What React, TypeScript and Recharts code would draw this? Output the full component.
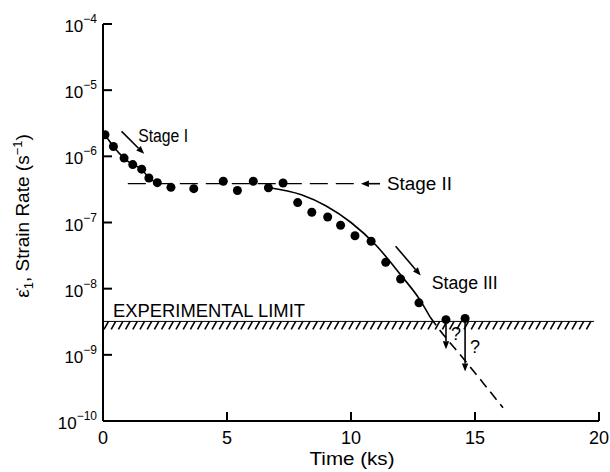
import React from 'react';
import {
    ComposedChart,
    Scatter,
    Line,
    XAxis,
    YAxis,
    ReferenceLine,
    ReferenceArea
} from 'recharts';

// measured points: time (ks) vs strain rate (1/s)
const timeKs = [0.08, 0.42, 0.85, 1.2, 1.56, 1.85, 2.19, 2.74, 3.66, 4.85, 5.42, 6.06, 6.67, 7.26, 7.85, 8.42, 9.06, 9.58, 10.16, 10.81, 11.4, 12.0, 12.74, 13.83, 14.6];
const strainRate = [2.12e-6, 1.41e-6, 9.4e-7, 7.5e-7, 6.4e-7, 4.7e-7, 4.0e-7, 3.4e-7, 3.25e-7, 4.2e-7, 3.05e-7, 4.2e-7, 3.35e-7, 3.95e-7, 2.0e-7, 1.43e-7, 1.21e-7, 9.1e-8, 6.3e-8, 5.2e-8, 2.5e-8, 1.4e-8, 6.1e-9, 3.4e-9, 3.55e-9];

// stage I fitted curve
const stage1Time = [0.08, 0.42, 0.85, 1.2, 1.56, 1.85, 2.19];
const stage1Rate = [2.12e-6, 1.41e-6, 9.4e-7, 7.5e-7, 6.4e-7, 4.7e-7, 4.0e-7];

// stage II steady-state level (dashed)
const stage2Time = [1.0, 10.3];
const stage2Rate = [3.86e-7, 3.86e-7];

// stage III fitted curve (solid) and extrapolation (dashed)
const stage3Time = [6.65, 8.0, 9.0, 10.0, 11.0, 12.0, 12.78, 13.19];
const stage3Rate = [3.39e-7, 2.63e-7, 1.78e-7, 1.0e-7, 4.57e-8, 1.62e-8, 6.76e-9, 3.72e-9];
const extrapTime = [13.19, 13.59, 14.52, 15.32, 16.13];
const extrapRate = [3.72e-9, 2.34e-9, 8.9e-10, 3.8e-10, 1.58e-10];

// experimental limit band
const limitLow = 2.43e-9;
const limitHigh = 3.2e-9;

const xTicks = [0, 5, 10, 15, 20];
const yTicks = [1e-10, 1e-9, 1e-8, 1e-7, 1e-6, 1e-5, 1e-4];

const toRows = (ts: number[], rs: number[]) => ts.map((t, i) => ({ t, rate: rs[i] }));

const FONT = '"Liberation Sans", Arial, sans-serif';
const PLOT_LEFT = 103;
const PLOT_BOTTOM = 421;

const YTick = (props: any) => {
    const { y, payload } = props;
    const exp = Math.round(Math.log10(payload.value));
    return (
        <g>
            <line x1={PLOT_LEFT} x2={PLOT_LEFT + 9} y1={y} y2={y} stroke="#000" strokeWidth={2} />
            <text x={PLOT_LEFT - 6} y={y + 8} textAnchor="end" fontSize={17} fontFamily={FONT} fill="#000">
                10<tspan dy={-9} fontSize={12}>{'\u2212' + Math.abs(exp)}</tspan>
            </text>
        </g>
    );
};

const XTick = (props: any) => {
    const { x, payload } = props;
    return (
        <g>
            {payload.value > 0 && (
                <line x1={x} x2={x} y1={PLOT_BOTTOM} y2={PLOT_BOTTOM - 9} stroke="#000" strokeWidth={2} />
            )}
            <text x={x} y={PLOT_BOTTOM + 23} textAnchor="middle" fontSize={18} fontFamily={FONT} fill="#000">
                {payload.value}
            </text>
        </g>
    );
};

const Hatch = (props: any) => {
    const { x, y, width, height } = props;
    const marks = [];
    for (let px = x + 1; px < x + width - 3; px += 7.2) {
        marks.push(
            <line key={px} x1={px} y1={y + height} x2={px + 4.5} y2={y} stroke="#000" strokeWidth={1.6} />
        );
    }
    return (
        <g>
            <line x1={x} x2={x + width} y1={y} y2={y} stroke="#000" strokeWidth={1} />
            {marks}
            <text x={x + 10} y={y - 4} fontSize={18} fontFamily={FONT} textLength={192} lengthAdjust="spacingAndGlyphs" fill="#000">
                EXPERIMENTAL LIMIT
            </text>
        </g>
    );
};

// arrow with optional text placed relative to one of its ends
const arrow = (label?: string, dx = 0, dy = 0, fromStart = false, len?: number) => (p: any) => {
    const { x1, y1, x2, y2 } = p;
    const ang = Math.atan2(y2 - y1, x2 - x1);
    const h = 8;
    const w = 3.2;
    const bx = x2 - h * Math.cos(ang);
    const by = y2 - h * Math.sin(ang);
    const pts = [
        `${x2},${y2}`,
        `${bx + w * Math.sin(ang)},${by - w * Math.cos(ang)}`,
        `${bx - w * Math.sin(ang)},${by + w * Math.cos(ang)}`
    ].join(' ');
    const ax = fromStart ? x1 : x2;
    const ay = fromStart ? y1 : y2;
    return (
        <g>
            <line x1={x1} y1={y1} x2={bx} y2={by} stroke="#000" strokeWidth={1.6} />
            <polygon points={pts} fill="#000" />
            {label && (
                <text x={ax + dx} y={ay + dy} fontSize={18} fontFamily={FONT} fill="#000"
                    textLength={len} lengthAdjust={len ? 'spacingAndGlyphs' : undefined}>
                    {label}
                </text>
            )}
        </g>
    );
};

export default function App() {
    const points = toRows(timeKs, strainRate);

    return (
        <div style={{ position: 'absolute', left: 0, top: 0, width: 610, height: 472, background: '#fff' }}>
            <ComposedChart width={610} height={472} margin={{ top: 24, right: 11, left: 43, bottom: 21 }}>
                <XAxis
                    dataKey="t"
                    type="number"
                    domain={[0, 20]}
                    ticks={xTicks}
                    allowDataOverflow
                    height={30}
                    axisLine={{ stroke: '#000', strokeWidth: 2 }}
                    tickLine={false}
                    tick={<XTick />}
                />
                <YAxis
                    type="number"
                    scale="log"
                    domain={[1e-10, 1e-4]}
                    ticks={yTicks}
                    allowDataOverflow
                    width={60}
                    axisLine={{ stroke: '#000', strokeWidth: 2 }}
                    tickLine={false}
                    tick={<YTick />}
                />
                <ReferenceArea x1={0} x2={19.8} y1={limitLow} y2={limitHigh} shape={<Hatch />} />
                <Line data={toRows(stage1Time, stage1Rate)} dataKey="rate" type="monotone" stroke="#000" strokeWidth={1.6} dot={false} isAnimationActive={false} />
                <Line data={toRows(stage2Time, stage2Rate)} dataKey="rate" type="linear" stroke="#000" strokeWidth={1.3} strokeDasharray="18 8" dot={false} isAnimationActive={false} />
                <Line data={toRows(stage3Time, stage3Rate)} dataKey="rate" type="monotone" stroke="#000" strokeWidth={1.6} dot={false} isAnimationActive={false} />
                <Line data={toRows(extrapTime, extrapRate)} dataKey="rate" type="monotone" stroke="#000" strokeWidth={1.6} strokeDasharray="10 6" dot={false} isAnimationActive={false} />
                <Scatter
                    data={points}
                    dataKey="rate"
                    isAnimationActive={false}
                    shape={(p: any) => <circle cx={p.cx} cy={p.cy} r={4.5} fill="#000" />}
                />
                <ReferenceLine segment={[{ x: 0.75, y: 2.38e-6 }, { x: 1.66, y: 1.09e-6 }]}
                    shape={arrow('Stage I', -6, -12, false, 50)} />
                <ReferenceLine segment={[{ x: 11.17, y: 3.86e-7 }, { x: 10.4, y: 3.86e-7 }]}
                    shape={arrow('Stage II', 7, 6, true, 65)} />
                <ReferenceLine segment={[{ x: 11.8, y: 4.38e-8 }, { x: 12.81, y: 1.58e-8 }]}
                    shape={arrow('Stage III', 11, 13, false, 66)} />
                <ReferenceLine segment={[{ x: 13.83, y: 3.4e-9 }, { x: 13.83, y: 1.21e-9 }]}
                    shape={arrow('?', 5, -9)} />
                <ReferenceLine segment={[{ x: 14.6, y: 3.55e-9 }, { x: 14.6, y: 5.6e-10 }]}
                    shape={arrow('?', 5, -18)} />
            </ComposedChart>
            <svg width={610} height={472} style={{ position: 'absolute', left: 0, top: 0, pointerEvents: 'none' }}>
                <text x={352} y={465} textAnchor="middle" fontSize={18} fontFamily={FONT} fill="#000" textLength={85} lengthAdjust="spacingAndGlyphs">Time (ks)</text>
                <text transform="translate(29,216) rotate(-90)" textAnchor="middle" fontSize={19} fontFamily={FONT} fill="#000">
                    {'\u03b5\u0307'}<tspan dy={4} fontSize={13}>1</tspan><tspan dy={-4}>, Strain Rate (s</tspan><tspan dy={-7} fontSize={13}>{'\u22121'}</tspan><tspan dy={7}>)</tspan>
                </text>
            </svg>
        </div>
    );
}
